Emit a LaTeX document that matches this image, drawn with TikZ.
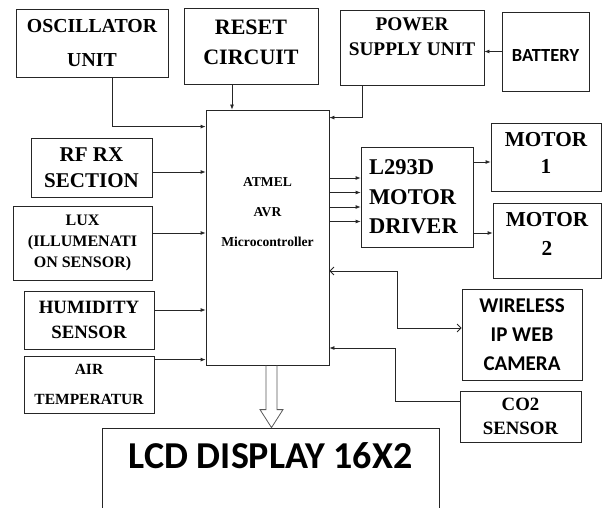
\documentclass[tikz,border=0pt]{standalone}
\usepackage{fontspec}
\setmainfont{Liberation Serif}
\newfontfamily\calibri{Carlito}
\usetikzlibrary{arrows.meta,calc}

\begin{document}
\begin{tikzpicture}[
  x=1pt, y=1pt,
  blk/.style={rectangle, draw=black!85, line width=0.8pt, inner sep=2pt, align=center},
  sz/.style 2 args={font=\bfseries\fontsize{#1}{#2}\selectfont},
  csz/.style 2 args={font=\calibri\bfseries\fontsize{#1}{#2}\selectfont},
  lift/.style={execute at end node={\rule[-#1]{0pt}{0pt}}},
  drop/.style={execute at begin node={\rule{0pt}{#1}}},
  arr/.style={-{Latex[length=5pt,width=4pt]}, draw=black!85, line width=0.8pt},
  dua/.style={{Straight Barb[length=4pt,width=8pt]}-{Straight Barb[length=4pt,width=8pt]}, draw=black!85, line width=0.8pt},
  hol/.style={draw=black!65, line width=0.8pt}
]
\useasboundingbox (0,0) rectangle (602,-508);

% top row
\node[blk, sz={19.8}{34}, minimum width=152, minimum height=68] (osc) at (92,-43) {OSCILLATOR\\UNIT};
\node[blk, sz={22}{30}, minimum width=134, minimum height=76, lift=8pt] (rst) at (251,-46) {RESET\\CIRCUIT};
\node[blk, sz={19.3}{25}, minimum width=144, minimum height=75, lift=22pt] (psu) at (412,-47.5) {POWER\\SUPPLY UNIT};
\node[blk, csz={18.5}{21}, minimum width=87, minimum height=79, drop=21pt] (bat) at (545.5,-51.5) {BATTERY};

% controller and inputs
\node[blk, sz={13.6}{30}, minimum width=123, minimum height=255, lift=50pt] (mcu) at (267.5,-237.5) {ATMEL\\AVR\\Microcontroller};
\node[blk, sz={21}{26.5}, minimum width=121, minimum height=59] (rfrx) at (91.5,-167.5) {RF RX\\SECTION};
\node[blk, sz={16}{21}, minimum width=139, minimum height=74] (lux) at (82.5,-243) {LUX\\(ILLUMENATI\\ON SENSOR)};
\node[blk, sz={18.8}{25}, minimum width=130, minimum height=58] (hum) at (89,-320) {HUMIDITY\\SENSOR};
\node[blk, sz={15.5}{30}, minimum width=130, minimum height=57] (air) at (89,-384.5) {AIR\\TEMPERATUR};

% outputs
\node[blk, sz={22.5}{29.5}, align=left, text width=96, minimum width=112, minimum height=100] (drv) at (417,-197) {L293D\\MOTOR\\DRIVER};
\node[blk, sz={21.3}{27}, minimum width=110, minimum height=68, lift=8pt] (mot1) at (546,-157) {MOTOR\\1};
\node[blk, sz={21.3}{28.5}, minimum width=108, minimum height=75, lift=13pt] (mot2) at (547,-240.5) {MOTOR\\2};
\node[blk, csz={21}{29}, minimum width=120, minimum height=91] (cam) at (522,-334.5) {WIRELESS\\IP WEB\\CAMERA};
\node[blk, sz={18.8}{24.5}, minimum width=121, minimum height=51] (co2) at (520.5,-416.5) {CO2\\SENSOR};
\node[blk, csz={38}{42}, minimum width=337, minimum height=120, lift=65pt] (lcd) at (270.5,-488) {LCD DISPLAY 16X2};

% connections
\draw[arr] ([xshift=20pt]osc.south) |- ([yshift=-17pt]mcu.north west);
\draw[arr] ([xshift=-19pt]rst.south) -- ([xshift=-19pt]rst.south |- mcu.north);
\draw[arr] ([xshift=-50pt]psu.south) |- ([yshift=-8pt]mcu.north east);
\draw[arr] (bat.west) -- (bat.west -| psu.east);
\draw[arr] ([yshift=-4.5pt]rfrx.east) -- ([yshift=-4.5pt]rfrx.east -| mcu.west);
\draw[arr] ([yshift=10pt]lux.east) -- ([yshift=10pt]lux.east -| mcu.west);
\draw[arr] ([yshift=10pt]hum.east) -- ([yshift=10pt]hum.east -| mcu.west);
\draw[arr] ([yshift=-4pt]air.north east) -- ([yshift=-4pt]air.north east -| mcu.west);
\foreach \dy in {19,4.5,-10,-24.5}
  \draw[arr] ([yshift=\dy pt]drv.west -| mcu.east) -- ([yshift=\dy pt]drv.west);
\draw[arr] ([yshift=-5pt]mot1.west -| drv.east) -- ([yshift=-5pt]mot1.west);
\draw[arr] ([yshift=7.5pt]mot2.west -| drv.east) -- ([yshift=7.5pt]mot2.west);
\draw[dua] ([yshift=-33.5pt]mcu.east) -- ++(68,0) |- ([yshift=6.5pt]cam.west);
\draw[arr] ([yshift=15.5pt]co2.west) -- ++(-64,0) |- ([yshift=-110.5pt]mcu.east);

% hollow arrow to the display
\coordinate (tip) at ([xshift=1pt]lcd.north);
\draw[hol] ([xshift=-5.5pt]tip |- mcu.south) -- ([xshift=-5.5pt,yshift=18pt]tip) -- ++(-6,0) -- (tip)
  -- ([xshift=11.5pt,yshift=18pt]tip) -- ++(-6,0) -- ([xshift=5.5pt]tip |- mcu.south);
\end{tikzpicture}
\end{document}
